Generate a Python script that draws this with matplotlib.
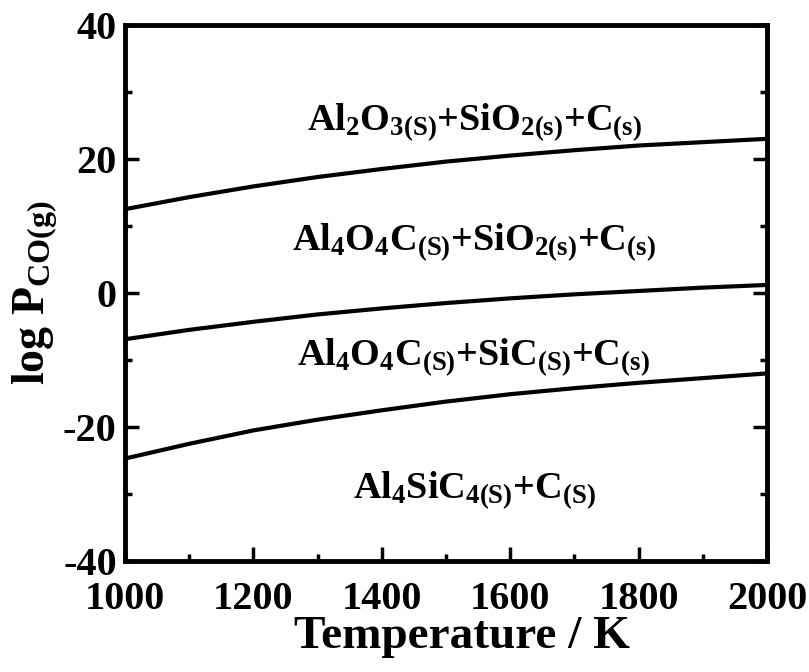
import matplotlib
matplotlib.use("Agg")
import matplotlib.pyplot as plt
from matplotlib.ticker import MultipleLocator

# --- data ---
temps = [1000, 1100, 1200, 1300, 1400, 1500, 1600, 1700, 1800, 1900, 2000]
logp_upper = [12.5, 14.3, 15.9, 17.3, 18.5, 19.6, 20.5, 21.3, 22.0, 22.5, 23.0]
logp_middle = [-6.9, -5.5, -4.3, -3.2, -2.3, -1.5, -0.8, -0.2, 0.3, 0.8, 1.2]
logp_lower = [-24.7, -22.5, -20.5, -18.9, -17.5, -16.2, -15.1, -14.2, -13.4, -12.7, -12.0]

region_labels = [
    r"Al$_2$O$_{3(S)}$+SiO$_{2(s)}$+C$_{(s)}$",
    r"Al$_4$O$_4$C$_{(S)}$+SiO$_{2(s)}$+C$_{(s)}$",
    r"Al$_4$O$_4$C$_{(S)}$+SiC$_{(S)}$+C$_{(s)}$",
    r"Al$_4$SiC$_{4(S)}$+C$_{(S)}$",
]
label_x = [1544, 1544, 1542, 1544]
label_y = [25.5, 7.6, -9.6, -29.4]

# --- fonts: Times-like bold everywhere ---
plt.rcParams["font.family"] = "Liberation Serif"
plt.rcParams["font.weight"] = "bold"
plt.rcParams["axes.unicode_minus"] = False
plt.rcParams["mathtext.fontset"] = "custom"
plt.rcParams["mathtext.rm"] = "Liberation Serif:bold"
plt.rcParams["mathtext.it"] = "Liberation Serif:bold"
plt.rcParams["mathtext.bf"] = "Liberation Serif:bold"

fig = plt.figure(figsize=(8.09, 6.72), dpi=100)
ax = fig.add_axes([0.1545, 0.165, 0.7935, 0.798])

for vals in (logp_upper, logp_middle, logp_lower):
    ax.plot(temps, vals, color="black", linewidth=3.0, solid_capstyle="butt")

for txt, x, y in zip(region_labels, label_x, label_y):
    ax.text(x, y, txt, ha="center", va="center", fontsize=27.5, fontweight="bold")

ax.set_xlim(1000, 2000)
ax.set_ylim(-40, 40)
ax.xaxis.set_major_locator(MultipleLocator(200))
ax.xaxis.set_minor_locator(MultipleLocator(100))
ax.yaxis.set_major_locator(MultipleLocator(20))
ax.yaxis.set_minor_locator(MultipleLocator(10))

ax.tick_params(which="both", direction="in", top=False, right=True, width=2.5,
               labelsize=29)
ax.tick_params(which="major", length=10)
ax.tick_params(which="minor", length=5)
ax.tick_params(axis="x", pad=14)
ax.tick_params(axis="y", pad=6)
for lbl in ax.get_xticklabels() + ax.get_yticklabels():
    lbl.set_fontweight("bold")

for sp in ax.spines.values():
    sp.set_linewidth(3.5)

ax.set_xlabel("Temperature / K", fontsize=34, fontweight="bold")
ax.xaxis.set_label_coords(0.525, -0.102)
ax.set_ylabel(r"log P$_{\mathrm{CO(g)}}$", fontsize=33, fontweight="bold", labelpad=2)

fig.savefig("out.png", dpi=100)
